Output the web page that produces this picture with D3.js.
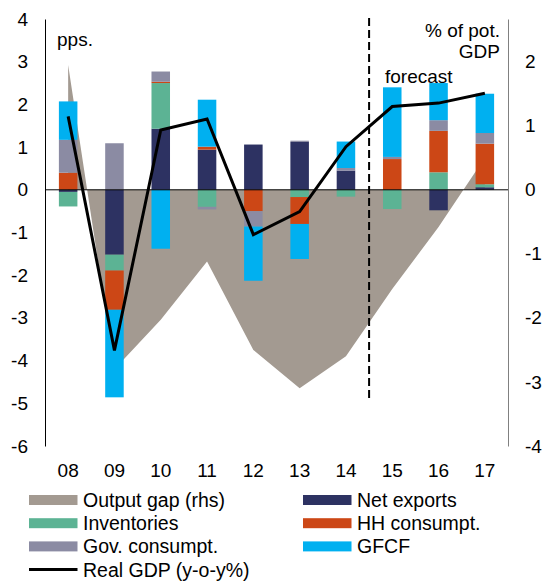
<!DOCTYPE html>
<html lang="en">
<head>
    <meta charset="UTF-8">
    <title>GDP contributions</title>
    <script src="https://cdn.jsdelivr.net/npm/d3@7"></script>
    <style>
        html, body {
            margin: 0;
            padding: 0;
            background: #ffffff;
            overflow: hidden;
        }
        text {
            font-family: "Liberation Sans", Arial, sans-serif;
            fill: #000000;
        }
    </style>
</head>
<body>
</body>
<script>
    // data
    let years = ['08', '09', '10', '11', '12', '13', '14', '15', '16', '17'];
    let netExports = [-0.05, -1.52, 1.43, 0.94, 1.06, 1.12, 0.45, 0, -0.48, 0.06];
    let inventories = [-0.34, -0.37, 1.07, -0.40, 0, -0.17, -0.16, -0.45, 0.41, 0.07];
    let hhConsumpt = [0.40, -0.92, 0.03, 0.07, -0.50, -0.63, 0, 0.72, 0.97, 0.95];
    let govConsumpt = [0.77, 1.09, 0.24, -0.06, -0.36, 0.03, 0.06, 0.05, 0.25, 0.25];
    let gfcf = [0.90, -2.05, -1.38, 1.10, -1.27, -0.82, 0.62, 1.63, 0.87, 0.92];
    let outputGap = [1.95, -2.8, -2.03, -1.12, -2.5, -3.1, -2.6, -1.55, -0.58, 0.5];
    let realGdp = [1.72, -3.76, 1.4, 1.66, -1.05, -0.51, 1.01, 1.95, 2.03, 2.26];
    let leftTicks = [-6, -5, -4, -3, -2, -1, 0, 1, 2, 3, 4];
    let rightTicks = [-4, -3, -2, -1, 0, 1, 2];

    let series = [
        {key: 'nx', name: 'Net exports', values: netExports, color: '#2d3262'},
        {key: 'inv', name: 'Inventories', values: inventories, color: '#5cb394'},
        {key: 'hh', name: 'HH consumpt.', values: hhConsumpt, color: '#cc4716'},
        {key: 'gov', name: 'Gov. consumpt.', values: govConsumpt, color: '#8b8ba3'},
        {key: 'gfcf', name: 'GFCF', values: gfcf, color: '#00b0f0'}
    ];
    let gapColor = '#a39a91';

    let width = 542;
    let height = 581;
    let plotLeft = 45, plotRight = 508, plotTop = 19, plotBottom = 446;

    let svg = d3.select('body')
        .append('svg')
        .attr('width', width)
        .attr('height', height);

    let x = d3.scaleBand()
        .domain(years)
        .range([plotLeft, plotRight])
        .paddingInner(0.6)
        .paddingOuter(0.3);
    let cx = d => x(d) + x.bandwidth() / 2;

    let y = d3.scaleLinear().domain([-6, 4]).range([plotBottom, plotTop]);
    // rhs shares the zero line with the lhs
    let yR = d3.scaleLinear().domain([-4, 8 / 3]).range([plotBottom, plotTop]);

    // output gap area (rhs)
    let gapArea = d3.area()
        .x((d, i) => cx(years[i]))
        .y0(yR(0))
        .y1(d => yR(d));
    svg.append('path')
        .datum(outputGap)
        .attr('d', gapArea)
        .attr('fill', gapColor);

    // stacked bars
    let table = years.map((yr, i) => {
        let row = {year: yr};
        series.forEach(s => row[s.key] = s.values[i]);
        return row;
    });
    let stack = d3.stack()
        .keys(series.map(s => s.key))
        .offset(d3.stackOffsetDiverging);
    let layers = stack(table);

    svg.append('g')
        .selectAll('g')
        .data(layers)
        .enter().append('g')
        .attr('fill', (d, i) => series[i].color)
        .selectAll('rect')
        .data(d => d)
        .enter().append('rect')
        .attr('x', d => x(d.data.year))
        .attr('width', x.bandwidth())
        .attr('y', d => y(Math.max(d[0], d[1])))
        .attr('height', d => Math.abs(y(d[0]) - y(d[1])));

    // zero line
    svg.append('line')
        .attr('x1', plotLeft).attr('x2', plotRight)
        .attr('y1', y(0)).attr('y2', y(0))
        .attr('stroke', '#000').attr('stroke-width', 1);

    // forecast divider
    let divX = x('15') - x.step() * x.paddingInner() / 2;
    svg.append('line')
        .attr('x1', divX).attr('x2', divX)
        .attr('y1', 18).attr('y2', 402)
        .attr('stroke', '#000')
        .attr('stroke-width', 2)
        .attr('stroke-dasharray', '8,4');

    // real GDP line
    let line = d3.line()
        .x((d, i) => cx(years[i]))
        .y(d => y(d));
    svg.append('path')
        .datum(realGdp)
        .attr('d', line)
        .attr('fill', 'none')
        .attr('stroke', '#000')
        .attr('stroke-width', 3)
        .attr('stroke-linejoin', 'miter');

    // axes (plain hyphen for negatives, like the original)
    let fmt = d => String(d);
    let axL = svg.append('g')
        .attr('transform', `translate(${plotLeft},0)`)
        .call(d3.axisLeft(y).tickValues(leftTicks).tickSize(0).tickPadding(17).tickFormat(fmt));
    axL.select('.domain').attr('stroke', '#000');
    let axR = svg.append('g')
        .attr('transform', `translate(${plotRight},0)`)
        .call(d3.axisRight(yR).tickValues(rightTicks).tickSize(0).tickPadding(17).tickFormat(fmt));
    axR.select('.domain').attr('stroke', '#808080');
    svg.selectAll('.tick text')
        .style('font-family', '"Liberation Sans", Arial, sans-serif')
        .style('font-size', '19px');

    svg.append('g')
        .selectAll('text')
        .data(years)
        .enter().append('text')
        .attr('x', d => cx(d))
        .attr('y', 477)
        .attr('text-anchor', 'middle')
        .style('font-size', '19px')
        .text(d => d);

    // annotations
    svg.append('text').attr('x', 57).attr('y', 46).style('font-size', '19px').text('pps.');
    svg.append('text').attr('x', 500).attr('y', 37).attr('text-anchor', 'end').style('font-size', '19px').text('% of pot.');
    svg.append('text').attr('x', 500).attr('y', 58).attr('text-anchor', 'end').style('font-size', '19px').text('GDP');
    svg.append('text').attr('x', 385).attr('y', 83).style('font-size', '19px').text('forecast');

    // legend
    let legendItems = [
        {name: 'Output gap (rhs)', color: gapColor, col: 0, row: 0},
        {name: series[0].name, color: series[0].color, col: 1, row: 0},
        {name: series[1].name, color: series[1].color, col: 0, row: 1},
        {name: series[2].name, color: series[2].color, col: 1, row: 1},
        {name: series[3].name, color: series[3].color, col: 0, row: 2},
        {name: series[4].name, color: series[4].color, col: 1, row: 2},
        {name: 'Real GDP (y-o-y%)', color: '#000', col: 0, row: 3, line: true}
    ];
    let legend = svg.append('g')
        .selectAll('g')
        .data(legendItems)
        .enter().append('g')
        .attr('transform', d => `translate(${d.col ? 303 : 29},${500 + d.row * 23.2})`);
    legend.filter(d => !d.line).append('rect')
        .attr('x', 0).attr('y', -5)
        .attr('width', 48.5).attr('height', 10)
        .attr('fill', d => d.color);
    legend.filter(d => d.line).append('line')
        .attr('x1', 0).attr('x2', 48.5)
        .attr('y1', 0).attr('y2', 0)
        .attr('stroke', '#000').attr('stroke-width', 3);
    legend.append('text')
        .attr('x', 54)
        .attr('y', 7)
        .style('font-size', '19.5px')
        .text(d => d.name);
</script>
</html>
